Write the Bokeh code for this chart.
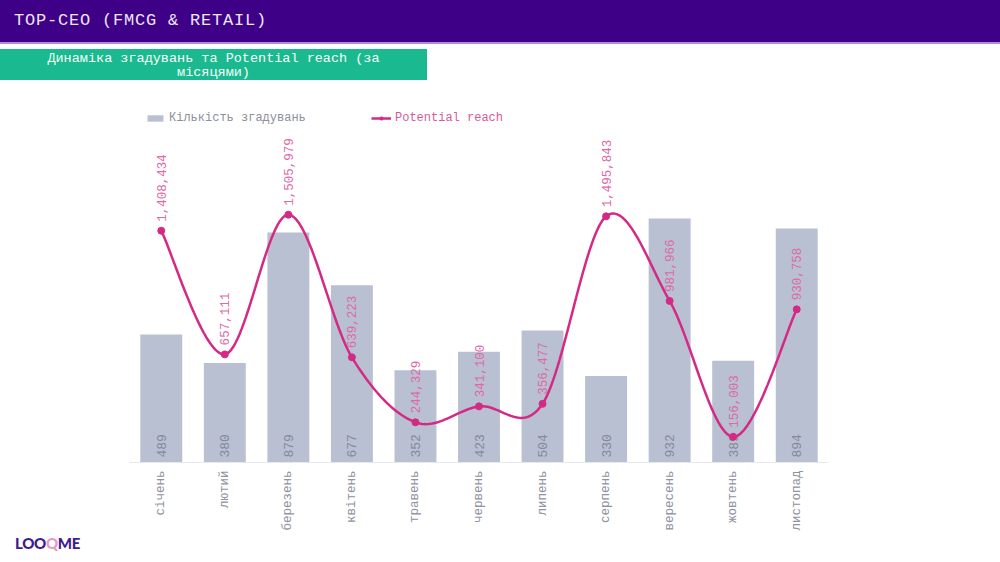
import numpy as np
from bokeh.plotting import figure
from bokeh.models import (Div, ColumnDataSource, Range1d, Legend, LegendItem, FactorRange)
from bokeh.layouts import column
from bokeh.core.properties import value
from bokeh.embed import file_html
from bokeh.resources import INLINE

# ---- data ----
months = ["січень", "лютий", "березень", "квітень", "травень", "червень",
          "липень", "серпень", "вересень", "жовтень", "листопад"]
mentions = [489, 380, 879, 677, 352, 423, 504, 330, 932, 389, 894]
reach = [1408434, 657111, 1505979, 639223, 244329, 341100, 356477,
         1495843, 981966, 156003, 930758]

title_text = "TOP-CEO (FMCG &amp; RETAIL)"
subtitle_text = "Динаміка згадувань та Potential reach (за<br>місяцями)"
legend_bar = "Кількість згадувань"
legend_line = "Potential reach"
logo_html = ('<span style="color:#3f1a8c">LOO</span><span style="color:#e79ac3">Q</span>'
             '<span style="color:#3f1a8c">ME</span>')

MONO = "Liberation Mono"
BAR_C = "#b8c0d2"
LINE_C = "#d42a86"
LAB_PINK = "#de6aa8"
GRAY_TXT = "#858a9c"

# ---- header divs ----
header = Div(text=title_text, width=1000, height=44, margin=(0, 0, 0, 0),
             styles={"background-color": "#3f0088", "color": "#ece6f5",
                     "font-family": "'Liberation Mono', monospace", "font-size": "17px",
                     "padding-left": "14px", "line-height": "42px",
                     "border-bottom": "2px solid #b58ad8", "box-sizing": "border-box",
                     "width": "1000px", "height": "44px", "letter-spacing": "0.8px"})
sub = Div(text=subtitle_text, width=427, height=31, margin=(5, 0, 0, 0),
          styles={"background-color": "#1bb98f", "color": "#f4fffb",
                  "font-family": "'Liberation Mono', monospace", "font-size": "13.5px",
                  "text-align": "center", "line-height": "14px", "padding-top": "3px",
                  "box-sizing": "border-box", "width": "427px", "height": "31px"})

# ---- chart ----
p = figure(x_range=FactorRange(*months, range_padding=0), y_range=Range1d(0, 1383),
           width=1000, height=455, output_backend="svg", toolbar_location=None,
           min_border_left=129, min_border_right=172, min_border_top=20,
           min_border_bottom=73, margin=(0, 0, 0, 0))
p.outline_line_color = None
p.grid.grid_line_color = None
p.yaxis.visible = False
p.extra_y_ranges = {"reach": Range1d(0, 2200000)}

src = ColumnDataSource(dict(m=months, v=mentions, r=reach,
                            vl=[str(v) for v in mentions],
                            rl=[f"{r:,}" for r in reach]))

bars = p.vbar(x="m", top="v", width=0.66, source=src, color=BAR_C, line_color=None)
p.text(x="m", y=0, text="vl", source=src, angle=np.pi / 2, text_align="left",
       text_baseline="middle", y_offset=-5, text_color=GRAY_TXT,
       text_font=value(MONO), text_font_size="13px")

# smooth (Catmull-Rom) curve through reach points
xs_pts = np.arange(len(reach)) + 0.5
ys_pts = np.array(reach, dtype=float)
cx, cy = [], []
n = len(reach)
for i in range(n - 1):
    p0 = (xs_pts[max(i - 1, 0)], ys_pts[max(i - 1, 0)])
    p1 = (xs_pts[i], ys_pts[i])
    p2 = (xs_pts[i + 1], ys_pts[i + 1])
    p3 = (xs_pts[min(i + 2, n - 1)], ys_pts[min(i + 2, n - 1)])
    for t in np.linspace(0, 1, 30, endpoint=(i == n - 2)):
        t2, t3 = t * t, t * t * t
        bx = 0.5 * ((2 * p1[0]) + (-p0[0] + p2[0]) * t + (2 * p0[0] - 5 * p1[0] + 4 * p2[0] - p3[0]) * t2
                    + (-p0[0] + 3 * p1[0] - 3 * p2[0] + p3[0]) * t3)
        by = 0.5 * ((2 * p1[1]) + (-p0[1] + p2[1]) * t + (2 * p0[1] - 5 * p1[1] + 4 * p2[1] - p3[1]) * t2
                    + (-p0[1] + 3 * p1[1] - 3 * p2[1] + p3[1]) * t3)
        cx.append(bx)
        cy.append(by)

line = p.line(cx, cy, y_range_name="reach", line_color=LINE_C, line_width=2.5)
pts = p.scatter(x="m", y="r", source=src, y_range_name="reach", size=7,
                fill_color=LINE_C, line_color=LINE_C)
p.text(x="m", y="r", text="rl", source=src, y_range_name="reach", angle=np.pi / 2,
       text_align="left", text_baseline="middle", y_offset=-9, text_color=LAB_PINK,
       text_font=value(MONO), text_font_size="12.5px")

# x axis
ax = p.xaxis[0]
ax.axis_line_color = "#e8e8ec"
ax.major_tick_line_color = None
ax.minor_tick_line_color = None
ax.major_label_orientation = np.pi / 2
ax.major_label_text_font = MONO
ax.major_label_text_font_size = "12.5px"
ax.major_label_text_color = "#8f92a0"
ax.major_label_standoff = 2

# legends (two, so each label keeps its own colour)
common = dict(orientation="horizontal", margin=0, padding=0, label_standoff=4,
              glyph_height=8, label_text_font=MONO, label_text_font_size="12px",
              border_line_color=None, background_fill_alpha=0, label_height=20)
leg1 = Legend(items=[LegendItem(label=legend_bar, renderers=[bars])],
              location=(16, 334), glyph_width=20, label_text_color="#8c8f9c", **common)
leg2 = Legend(items=[LegendItem(label=legend_line, renderers=[line, pts])],
              location=(242, 334), glyph_width=20, label_text_color="#d45a9c", **common)
p.add_layout(leg1)
p.add_layout(leg2)

# logo
logo = Div(text=logo_html, width=200, height=27, margin=(0, 0, 0, 0),
           styles={"font-family": "Lato, sans-serif", "font-weight": "900", "font-size": "15px",
                   "padding-left": "15px", "line-height": "16px", "letter-spacing": "-0.3px"})

page = column(header, sub, p, logo, spacing=0)
open("out.html", "w").write(file_html(page, INLINE))
